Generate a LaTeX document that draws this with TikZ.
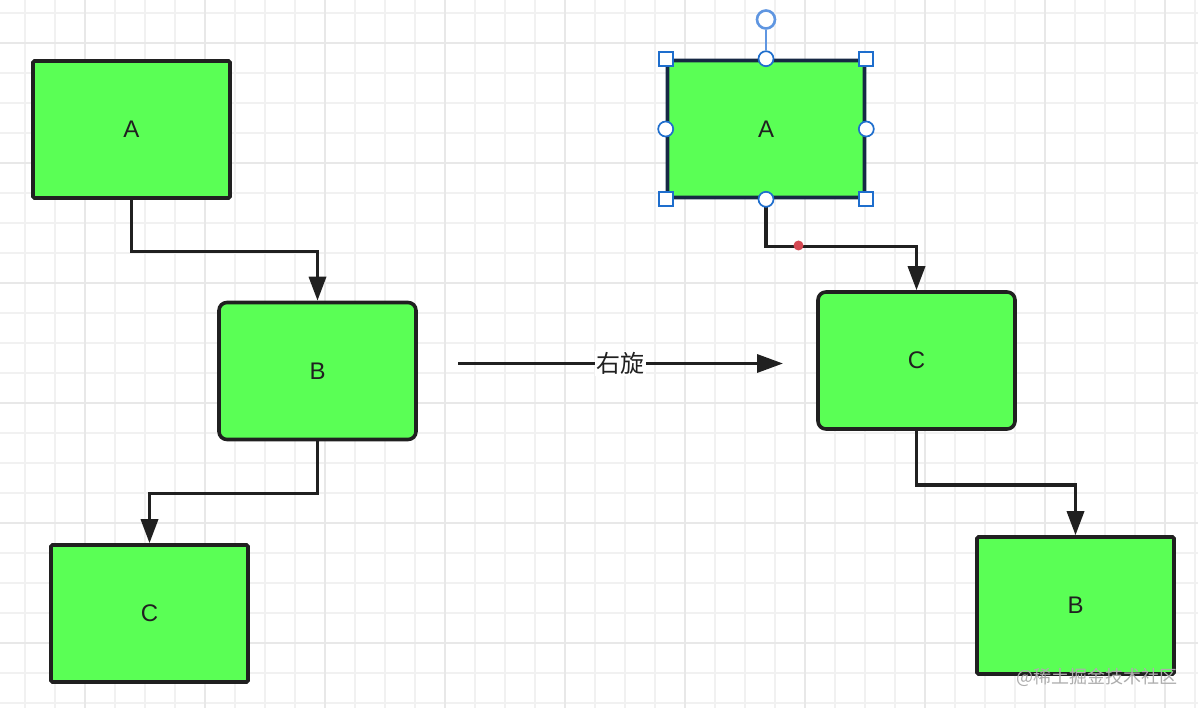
\documentclass[tikz,border=0pt]{standalone}
\usepackage{fontspec}
\setmainfont{Liberation Sans}
\newfontfamily\cjk{Noto Sans CJK SC}
\usetikzlibrary{arrows.meta}
\definecolor{boxgreen}{RGB}{90,255,85}
\definecolor{ink}{RGB}{32,32,32}
\definecolor{navy}{RGB}{22,40,68}
\definecolor{selblue}{RGB}{30,110,205}
\definecolor{rotblue}{RGB}{95,150,225}
\definecolor{gridminor}{RGB}{241,241,241}
\definecolor{gridmajor}{RGB}{232,232,232}
\definecolor{dotred}{RGB}{212,72,82}
\begin{document}
\begin{tikzpicture}[x=1pt,y=-1pt,
  minorline/.style={draw=gridminor, line width=2pt},
  majorline/.style={draw=gridmajor, line width=2pt},
  box/.style={draw=ink, line width=3.6pt, fill=boxgreen, minimum width=197pt,
    minimum height=137pt, rounded corners=1.5pt, inner sep=0pt,
    font=\fontsize{24}{28}\selectfont, text=ink},
  roundbox/.style={box, rounded corners=8pt},
  selbox/.style={box, draw=navy},
  conn/.style={draw=ink, line width=3.4pt, -{Triangle[length=24pt,width=17pt]}},
  hsq/.style={rectangle, draw=selblue, fill=white, line width=1.7pt,
    minimum size=14pt, inner sep=0pt},
  hci/.style={circle, draw=selblue, fill=white, line width=1.7pt,
    minimum size=15pt, inner sep=0pt},
  rothandle/.style={circle, draw=rotblue, fill=white, line width=2.6pt,
    minimum size=18pt, inner sep=0pt},
  rotline/.style={draw=rotblue, line width=2.2pt},
  reddot/.style={circle, fill=dotred, minimum size=10pt, inner sep=0pt},
  rotlabel/.style={fill=white, inner sep=1.5pt, text=ink,
    font=\cjk\fontsize{24}{28}\selectfont},
  watermark/.style={text=black!32, inner sep=0pt,
    font=\cjk\fontsize{18}{21}\selectfont}
]
\useasboundingbox (0,0) rectangle (1198,708);
\fill[white] (0,0) rectangle (1198,708);
% grid
\foreach \i in {0,...,39} \draw[minorline] ({25+30*\i},0) -- ({25+30*\i},708);
\foreach \i in {0,...,23} \draw[minorline] (0,{13+30*\i}) -- (1198,{13+30*\i});
\foreach \i in {0,...,9} \draw[majorline] ({85+120*\i},0) -- ({85+120*\i},708);
\foreach \i in {0,...,5} \draw[majorline] (0,{43+120*\i}) -- (1198,{43+120*\i});

% left tree
\node[box] (A1) at (131.5,129.5) {A};
\node[roundbox] (B1) at (317.5,371) {B};
\node[box] (C1) at (149.5,613.5) {C};
\draw[conn] (A1.south) -- ++(0,52) -| (B1.north);
\draw[conn] (B1.south) -- ++(0,52) -| (C1.north);

% middle arrow
\coordinate (m1) at (458,363.5);
\coordinate (m2) at (783,363.5);
\draw[conn, -{Triangle[length=26pt,width=18pt]}] (m1) -- (m2)
  node[rotlabel, pos=0.5] (lbl) {右旋};

% right tree
\node[selbox] (A2) at (766,129) {A};
\node[roundbox] (C2) at (916.5,360.5) {C};
\node[box] (B2) at (1075.5,605.5) {B};
\draw[conn] (A2.south) -- ++(0,47) -| (C2.north);
\draw[conn] (C2.south) -- ++(0,54) -| (B2.north);
\node[reddot] (rd) at (798.5,245.5) {};

% selection handles
\node[rothandle] (rot) at (766,19.5) {};
\node[hci] (hn) at (A2.north) {};
\draw[rotline] (rot.south) -- (hn.north);
\node[hci] (hs) at (A2.south) {};
\node[hci] (hw) at (A2.west) {};
\node[hci] (he) at (A2.east) {};
\node[hsq] (hnw) at (A2.north west) {};
\node[hsq] (hne) at (A2.north east) {};
\node[hsq] (hsw) at (A2.south west) {};
\node[hsq] (hse) at (A2.south east) {};

% watermark
\node[watermark] (wm) at (1097,677) {@稀土掘金技术社区};
\end{tikzpicture}
\end{document}
